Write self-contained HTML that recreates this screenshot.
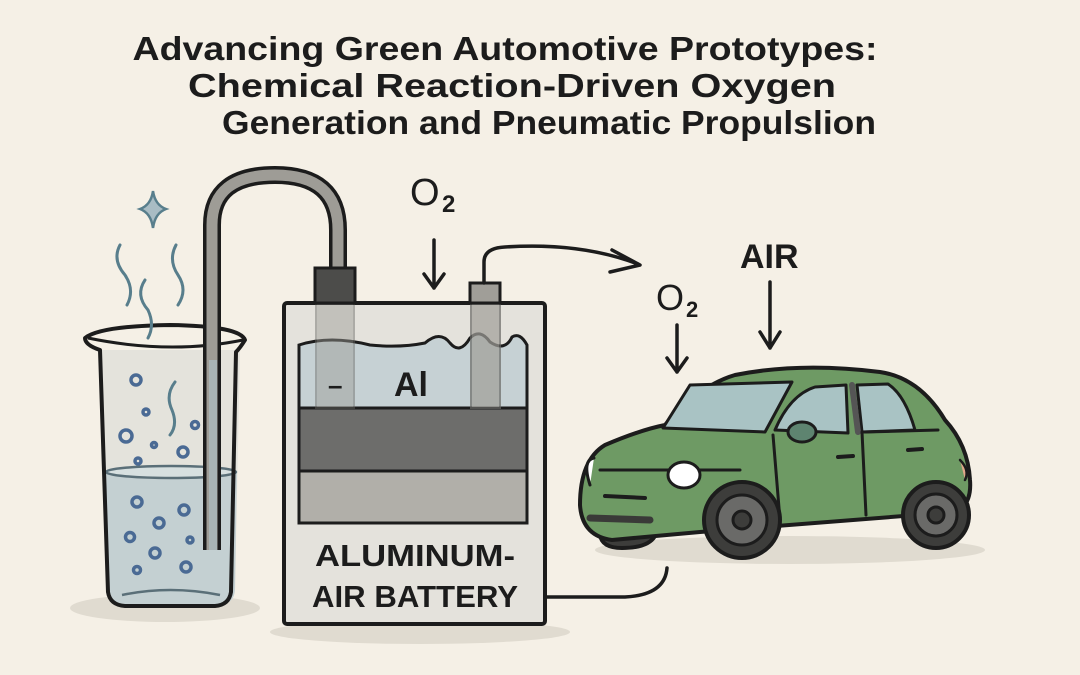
<!DOCTYPE html>
<html><head><meta charset="utf-8"><style>
html,body{margin:0;padding:0;background:#f5f0e6;}
svg{display:block}
text{font-family:"Liberation Sans",sans-serif;font-weight:bold;fill:#1c1c1c}
</style></head><body>
<svg width="1080" height="675" viewBox="0 0 1080 675" xmlns="http://www.w3.org/2000/svg">
<rect width="1080" height="675" fill="#f5f0e6"/>
<!-- title -->
<text x="505" y="60" font-size="33" text-anchor="middle" textLength="745" lengthAdjust="spacingAndGlyphs">Advancing Green Automotive Prototypes:</text>
<text x="512" y="97" font-size="33" text-anchor="middle" textLength="648" lengthAdjust="spacingAndGlyphs">Chemical Reaction-Driven Oxygen</text>
<text x="549" y="134" font-size="33" text-anchor="middle" textLength="654" lengthAdjust="spacingAndGlyphs">Generation and Pneumatic Propulslion</text>

<!-- shadows -->
<ellipse cx="165" cy="608" rx="95" ry="14" fill="#e0dbd0"/>
<ellipse cx="420" cy="632" rx="150" ry="12" fill="#e0dbd0"/>
<ellipse cx="790" cy="550" rx="195" ry="14" fill="#e0dbd0"/>

<!-- beaker -->
<path d="M100 350 L108 590 Q110 603 125 604 L222 604 Q234 603 235 590 L240 350 Z" fill="#e4e3dc"/>
<path d="M106 472 L108 590 Q110 603 125 604 L222 604 Q234 603 235 590 L237 472 Z" fill="#c4d0d2"/>
<ellipse cx="171" cy="472" rx="65" ry="6" fill="#d7e0e0" stroke="#5a6f78" stroke-width="2.5"/>
<path d="M122 595 Q170 585 220 595" fill="none" stroke="#5a6f78" stroke-width="2.5"/>
<path d="M100 350 Q85 345 85 338 Q100 326 170 325 Q240 326 245 340 Q240 348 236 352 L231 592 Q229 605 215 606 L125 606 Q110 605 108 592 Z" fill="none" stroke="#1c1c1c" stroke-width="4" stroke-linejoin="round"/>
<path d="M88 338 Q170 355 243 340" fill="none" stroke="#1c1c1c" stroke-width="3"/>
<g fill="none" stroke="#4a6a94" stroke-width="3.5">
<circle cx="136" cy="380" r="5"/><circle cx="146" cy="412" r="3"/><circle cx="126" cy="436" r="6"/><circle cx="154" cy="445" r="2.5"/><circle cx="183" cy="452" r="5"/><circle cx="195" cy="425" r="3.5"/><circle cx="138" cy="461" r="3"/>
<circle cx="137" cy="502" r="5"/><circle cx="184" cy="510" r="5"/><circle cx="159" cy="523" r="5"/><circle cx="130" cy="537" r="4.5"/><circle cx="190" cy="540" r="3"/><circle cx="155" cy="553" r="5"/><circle cx="186" cy="567" r="5"/><circle cx="137" cy="570" r="3.5"/>
</g>
<g fill="none" stroke="#587e8c" stroke-width="3" stroke-linecap="round">
<path d="M120 245 Q112 260 125 275 Q135 290 127 305"/>
<path d="M145 280 Q135 295 148 310 Q155 325 148 338"/>
<path d="M176 245 Q168 260 178 275 Q188 290 178 305"/>
<path d="M175 382 Q165 395 172 410 Q178 425 170 435"/>
</g>
<path d="M153 191 Q155 205 166 209 Q155 213 153 228 Q151 213 140 209 Q151 205 153 191 Z" fill="#a9bcc4" stroke="#587e8c" stroke-width="2.5"/>

<!-- tube -->
<path d="M212 550 L212 225 Q212 175 275 175 Q338 175 338 230 L338 270" fill="none" stroke="#1c1c1c" stroke-width="18"/>
<path d="M212 550 L212 225 Q212 175 275 175 Q338 175 338 230 L338 270" fill="none" stroke="#9e9c96" stroke-width="11"/>
<rect x="209" y="360" width="8" height="190" fill="#a9b4b5"/>

<!-- battery -->
<rect x="284" y="303" width="261" height="321" rx="3" fill="#e4e2dc" stroke="#1c1c1c" stroke-width="4"/>
<path d="M299 345 Q330 335 370 345 Q400 348 425 343 Q440 330 450 343 Q460 355 470 338 Q480 328 490 342 Q505 352 512 337 Q520 332 527 345 L527 408 L299 408 Z" fill="#c6d1d4" stroke="#1c1c1c" stroke-width="3"/>
<rect x="299" y="408" width="228" height="63" fill="#6d6d6b" stroke="#1c1c1c" stroke-width="3"/>
<rect x="299" y="471" width="228" height="52" fill="#b1afa9" stroke="#1c1c1c" stroke-width="3"/>
<rect x="316" y="300" width="38" height="108" fill="#9b9a95" opacity="0.45" stroke="#6a6a66" stroke-width="2"/>
<rect x="315" y="268" width="40" height="35" fill="#4c4c4a" stroke="#1c1c1c" stroke-width="3"/>
<rect x="471" y="295" width="29" height="113" fill="#a09e98" opacity="0.7" stroke="#6a6a66" stroke-width="2"/>
<rect x="470" y="283" width="30" height="20" fill="#a09e98" stroke="#1c1c1c" stroke-width="3"/>
<text x="328" y="394" font-size="26">–</text>
<text x="394" y="396" font-size="34">Al</text>
<text x="415" y="566" font-size="31" text-anchor="middle" textLength="200" lengthAdjust="spacingAndGlyphs">ALUMINUM-</text>
<text x="415" y="607" font-size="31" text-anchor="middle" textLength="206" lengthAdjust="spacingAndGlyphs">AIR BATTERY</text>

<!-- O2 top -->
<text x="410" y="205" font-size="38" style="font-weight:500">O</text>
<text x="442" y="212" font-size="24">2</text>
<g fill="none" stroke="#1c1c1c" stroke-width="3.5" stroke-linecap="round" stroke-linejoin="round">
<path d="M434 240 L434 288 M424 274 L434 288 L444 274"/>
<path d="M484 283 L484 262 Q484 248 505 247 Q580 242 638 264"/>
<path d="M612 250 L640 265 L610 272"/>
<path d="M545 597 L625 597 Q665 595 667 568"/>
<path d="M677 325 L677 372 M667 358 L677 372 L687 358"/>
<path d="M770 282 L770 348 M760 332 L770 348 L780 332"/>
</g>
<text x="656" y="310" font-size="36" style="font-weight:500">O</text>
<text x="686" y="317" font-size="22">2</text>
<text x="740" y="268" font-size="34">AIR</text>

<!-- car -->
<g stroke="#1c1c1c" stroke-width="4" stroke-linejoin="round" stroke-linecap="round">
<path d="M600 535 Q602 548 622 548 Q648 548 655 536 Z" fill="#3d3d3b"/>
<path d="M612 540 Q582 536 580 505 Q580 460 605 445 Q640 430 665 425 Q700 385 735 375 Q800 362 880 372 Q920 378 945 420 Q968 445 970 480 Q972 505 955 512 L700 532 Z" fill="#6e9a64"/>
<path d="M663 428 L690 385 L792 382 L765 432 Z" fill="#a9c3c4" stroke-width="3"/>
<path d="M775 430 Q790 395 815 387 L846 385 L848 433 Z" fill="#a9c3c4" stroke-width="3"/>
<path d="M857 385 L888 384 Q905 395 915 430 L862 432 Z" fill="#a9c3c4" stroke-width="3"/>
<path d="M852 385 L858 432" stroke-width="6" stroke="#555"/>
<path d="M773 435 L780 520 M862 432 L866 515 M865 432 L938 430 M600 470 L740 470" fill="none" stroke-width="3"/>
<ellipse cx="802" cy="432" rx="14" ry="10" fill="#5e8470" stroke-width="3"/>
<ellipse cx="684" cy="475" rx="16" ry="13" fill="#fff" stroke-width="3"/>
<path d="M590 485 Q582 460 594 458" fill="#fff" stroke-width="3"/>
<path d="M605 496 L645 498 M838 457 L853 456 M908 450 L922 449" fill="none" stroke-width="4"/>
<path d="M590 518 L650 520" fill="none" stroke-width="7" stroke="#3a3a38"/>
<path d="M960 460 Q970 470 965 480" fill="#e0a88a" stroke-width="2.5"/>
<circle cx="742" cy="520" r="38" fill="#3d3d3b"/>
<circle cx="742" cy="520" r="25" fill="#6a6a68" stroke-width="3"/>
<circle cx="742" cy="520" r="9" fill="#3d3d3b" stroke-width="3"/>
<circle cx="936" cy="515" r="33" fill="#3d3d3b"/>
<circle cx="936" cy="515" r="21" fill="#6a6a68" stroke-width="3"/>
<circle cx="936" cy="515" r="8" fill="#3d3d3b" stroke-width="3"/>
</g>
</svg>
</body></html>
